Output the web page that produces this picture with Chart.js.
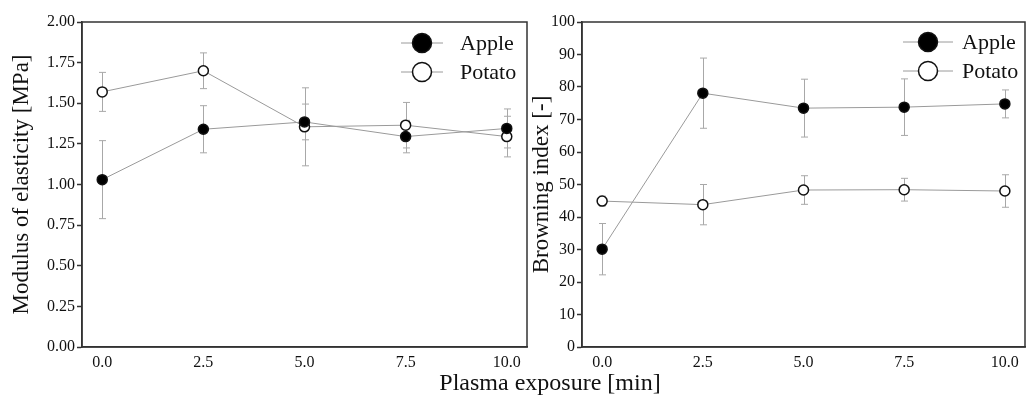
<!DOCTYPE html>
<html>
<head>
<meta charset="utf-8">
<script src="https://cdn.jsdelivr.net/npm/chart.js@4.4.1/dist/chart.umd.min.js"></script>
<style>
html,body{margin:0;padding:0;background:#fff;width:1026px;height:396px;overflow:hidden;}
#wrapL{position:absolute;left:0;top:0;width:528px;height:396px;}
#wrapR{position:absolute;left:528px;top:0;width:498px;height:396px;}
#xtitle{position:absolute;left:550px;top:370px;transform:translateX(-50%);font-family:"Liberation Serif","Times New Roman",serif;font-size:24px;line-height:24px;color:#111;white-space:nowrap;}
</style>
</head>
<body>
<div id="wrapL"><canvas id="cL" width="528" height="396"></canvas></div>
<div id="wrapR"><canvas id="cR" width="498" height="396"></canvas></div>
<div id="xtitle">Plasma exposure [min]</div>
<script>
// ---- data ----
const exposureTimes = [0, 2.5, 5, 7.5, 10];
const exposureTickValues = [0, 2.5, 5, 7.5, 10];
const exposureTickLabels = ['0.0', '2.5', '5.0', '7.5', '10.0'];

const seriesNames = ['Apple', 'Potato'];

const appleModulus = [1.03, 1.34, 1.385, 1.295, 1.345];
const appleModulusErr = [0.24, 0.145, 0.11, 0.10, 0.12];
const potatoModulus = [1.57, 1.70, 1.355, 1.365, 1.295];
const potatoModulusErr = [0.12, 0.11, 0.24, 0.14, 0.125];

const appleBrowning = [30.1, 78.1, 73.5, 73.8, 74.8];
const appleBrowningErr = [7.9, 10.8, 8.9, 8.7, 4.3];
const potatoBrowning = [44.9, 43.8, 48.3, 48.4, 48.0];
const potatoBrowningErr = [1.5, 6.2, 4.4, 3.5, 5.0];

const modulusTickValues = [0, 0.25, 0.5, 0.75, 1, 1.25, 1.5, 1.75, 2];
const modulusTickLabels = ['0.00', '0.25', '0.50', '0.75', '1.00', '1.25', '1.50', '1.75', '2.00'];
const browningTickValues = [0, 10, 20, 30, 40, 50, 60, 70, 80, 90, 100];
const browningTickLabels = ['0', '10', '20', '30', '40', '50', '60', '70', '80', '90', '100'];

// ---- style ----
const FONT = '"Liberation Serif", "Times New Roman", serif';
Chart.defaults.font.family = FONT;
Chart.defaults.color = '#111';
const LINE_GRAY = '#9a9a9a';
const ERR_GRAY = '#a8a8a8';
const AXIS = '#333';

const errorBarsPlugin = {
  id: 'errorBars',
  beforeDatasetsDraw(chart) {
    const ctx = chart.ctx, xs = chart.scales.x, ys = chart.scales.y;
    ctx.save();
    ctx.strokeStyle = ERR_GRAY;
    ctx.lineWidth = 1;
    chart.data.datasets.forEach(ds => {
      if (!ds.errors) return;
      ds.data.forEach((p, i) => {
        const e = ds.errors[i];
        const x = Math.round(xs.getPixelForValue(p.x)) + 0.5;
        const yt = ys.getPixelForValue(p.y + e);
        const yb = ys.getPixelForValue(p.y - e);
        ctx.beginPath();
        ctx.moveTo(x, yt); ctx.lineTo(x, yb);
        ctx.moveTo(x - 3.5, yt); ctx.lineTo(x + 3.5, yt);
        ctx.moveTo(x - 3.5, yb); ctx.lineTo(x + 3.5, yb);
        ctx.stroke();
      });
    });
    ctx.restore();
  }
};

const framePlugin = {
  id: 'frame',
  afterDraw(chart) {
    const a = chart.chartArea, ctx = chart.ctx;
    ctx.save();
    ctx.strokeStyle = AXIS;
    ctx.lineWidth = 1.5;
    ctx.strokeRect(a.left, a.top, a.right - a.left, a.bottom - a.top);
    ctx.restore();
  }
};

const lineLegendPlugin = {
  id: 'lineLegend',
  afterDraw(chart, args, opts) {
    const a = chart.chartArea, ctx = chart.ctx;
    ctx.save();
    chart.data.datasets.forEach((ds, i) => {
      const y = a.top + opts.firstRow + i * opts.rowGap;
      const mx = a.right + opts.markerX;
      ctx.strokeStyle = LINE_GRAY;
      ctx.lineWidth = 1;
      ctx.beginPath();
      ctx.moveTo(mx - opts.halfLine, y); ctx.lineTo(mx + opts.halfLine, y);
      ctx.stroke();
      ctx.beginPath();
      ctx.arc(mx, y, 9.5, 0, Math.PI * 2);
      ctx.fillStyle = ds.pointBackgroundColor;
      ctx.fill();
      ctx.strokeStyle = '#111';
      ctx.lineWidth = 1.5;
      ctx.stroke();
      ctx.fillStyle = '#111';
      ctx.font = '22px ' + FONT;
      ctx.textBaseline = 'middle';
      ctx.textAlign = 'left';
      ctx.fillText(ds.label, a.right + opts.textX, y + 1);
    });
    ctx.restore();
  }
};

function toPoints(ys) { return exposureTimes.map((t, i) => ({ x: t, y: ys[i] })); }

function makeDataset(name, values, errs, fill) {
  return {
    label: name,
    data: toPoints(values),
    errors: errs,
    borderColor: LINE_GRAY,
    borderWidth: 1,
    pointRadius: 5,
    pointHoverRadius: 5,
    pointBorderWidth: 1.5,
    pointBorderColor: '#111',
    pointBackgroundColor: fill,
    tension: 0,
    fill: false
  };
}

function makeChart(canvasId, datasets, yVals, yLabels, yMin, yMax, yTitle, yWidth, titlePad, legendOpts) {
  return new Chart(document.getElementById(canvasId), {
    type: 'line',
    data: { datasets },
    plugins: [errorBarsPlugin, framePlugin, lineLegendPlugin],
    options: {
      responsive: false,
      animation: false,
      events: [],
      layout: { autoPadding: false, padding: { top: 22, right: 1, left: 0, bottom: 0 } },
      plugins: {
        legend: { display: false },
        tooltip: { enabled: false },
        lineLegend: legendOpts
      },
      scales: {
        x: {
          type: 'linear',
          min: -0.5, max: 10.5,
          afterBuildTicks: s => { s.ticks = exposureTickValues.map(v => ({ value: v })); },
          ticks: {
            callback: (v, i) => exposureTickLabels[i],
            font: { size: 16 }, color: '#111', padding: 6, maxRotation: 0
          },
          grid: { display: false, drawTicks: false },
          border: { display: true, color: AXIS, width: 1.5 },
          afterFit: s => { s.height = 49; s.paddingLeft = 0; s.paddingRight = 0; }
        },
        y: {
          type: 'linear',
          min: yMin, max: yMax,
          afterBuildTicks: s => { s.ticks = yVals.map(v => ({ value: v })); },
          ticks: {
            callback: (v, i) => yLabels[i],
            font: { size: 16 }, color: '#111', padding: 2
          },
          grid: { drawOnChartArea: false, drawTicks: true, tickLength: 5, tickColor: AXIS, tickWidth: 1.5 },
          border: { display: true, color: AXIS, width: 1.5 },
          title: { display: true, text: yTitle, font: { size: 23 }, color: '#111', padding: { top: titlePad, bottom: 0 } },
          afterFit: s => { s.width = yWidth; s.paddingTop = 0; s.paddingBottom = 0; }
        }
      }
    }
  });
}

makeChart('cL',
  [makeDataset(seriesNames[0], appleModulus, appleModulusErr, '#000'),
   makeDataset(seriesNames[1], potatoModulus, potatoModulusErr, '#fff')],
  modulusTickValues, modulusTickLabels, 0, 2, 'Modulus of elasticity [MPa]', 82, 8,
  { firstRow: 21, rowGap: 29, markerX: -105, halfLine: 21, textX: -67 });

makeChart('cR',
  [makeDataset(seriesNames[0], appleBrowning, appleBrowningErr, '#000'),
   makeDataset(seriesNames[1], potatoBrowning, potatoBrowningErr, '#fff')],
  browningTickValues, browningTickLabels, 0, 100, 'Browning index [-]', 54, 0,
  { firstRow: 20, rowGap: 29, markerX: -97, halfLine: 25, textX: -63 });
</script>
</body>
</html>
